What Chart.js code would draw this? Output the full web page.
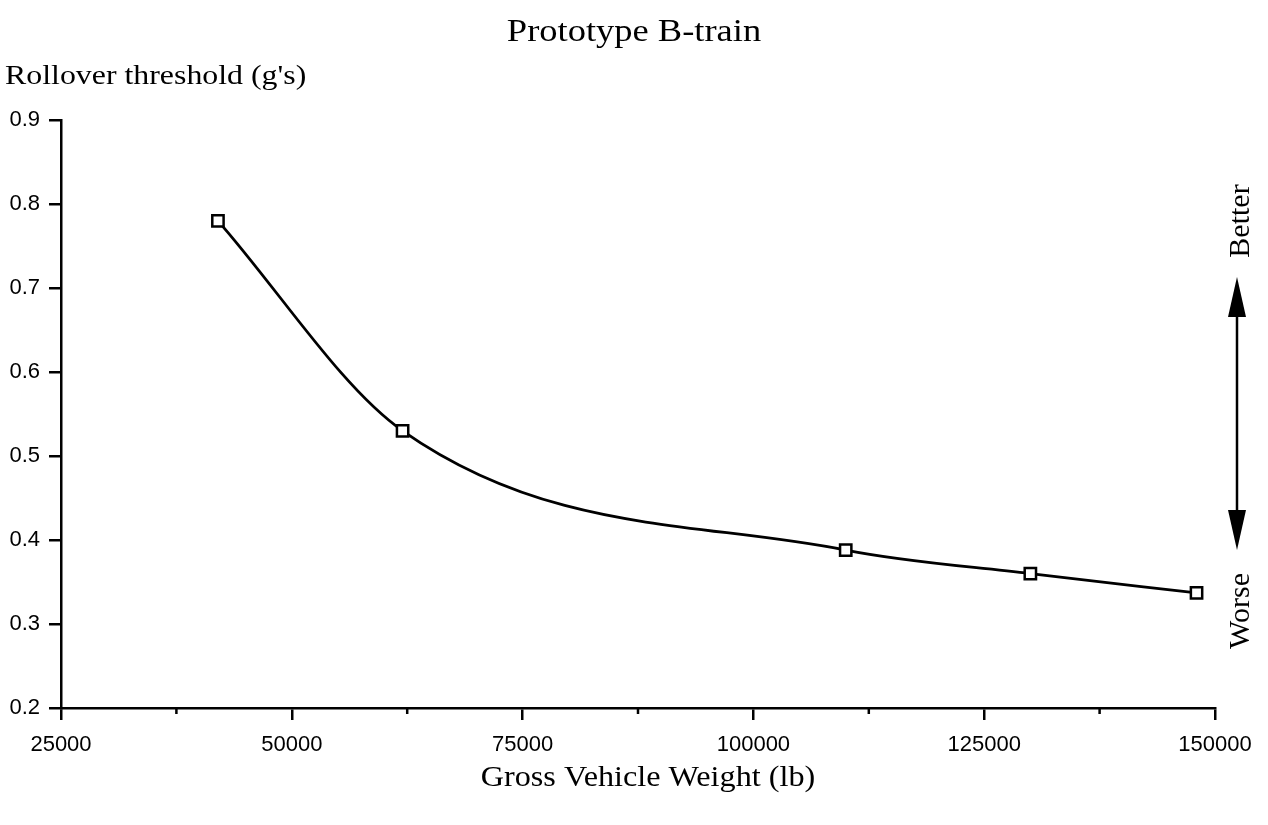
<!DOCTYPE html>
<html>
<head>
<meta charset="utf-8">
<script src="https://cdn.jsdelivr.net/npm/chart.js@4/dist/chart.umd.min.js"></script>
<style>
  html, body { margin: 0; padding: 0; background: #fff; }
  #wrap { width: 1268px; height: 825px; position: relative; }
</style>
</head>
<body>
<div id="wrap"><canvas id="c" width="1268" height="825"></canvas></div>
<script>
// ---- data ----
const chartTitle = "Prototype B-train";
const yAxisLabel = "Rollover threshold (g's)";
const xAxisLabel = "Gross Vehicle Weight (lb)";
const betterLabel = "Better";
const worseLabel = "Worse";
const grossWeight = [42000, 62000, 110000, 130000, 148000];
const rolloverThreshold = [0.78, 0.53, 0.388, 0.36, 0.337];
const xMajorTicks = [25000, 50000, 75000, 100000, 125000, 150000];
const xMinorTicks = [37500, 62500, 87500, 112500, 137500];
const yTicks = [0.2, 0.3, 0.4, 0.5, 0.6, 0.7, 0.8, 0.9];

const serif = '"Liberation Serif", "Times New Roman", serif';
const sans = '"Liberation Sans", Arial, Helvetica, sans-serif';

function stretchedText(ctx, text, cx, baseY, font, sx, align) {
  ctx.save();
  ctx.font = font;
  ctx.textBaseline = 'alphabetic';
  ctx.textAlign = align;
  ctx.translate(cx, baseY);
  ctx.scale(sx, 1);
  ctx.fillText(text, 0, 0);
  ctx.restore();
}

const decorPlugin = {
  id: 'decor',
  afterDraw(chart) {
    const ctx = chart.ctx;
    const xs = chart.scales.x;
    const area = chart.chartArea;
    ctx.save();
    // minor x ticks
    ctx.strokeStyle = '#000';
    ctx.lineWidth = 2.5;
    xMinorTicks.forEach(v => {
      const px = xs.getPixelForValue(v);
      ctx.beginPath();
      ctx.moveTo(px, area.bottom);
      ctx.lineTo(px, area.bottom + 6);
      ctx.stroke();
    });
    ctx.fillStyle = '#000';
    // title
    stretchedText(ctx, chartTitle, 634, 41, '32px ' + serif, 1.14, 'center');
    // y axis label
    stretchedText(ctx, yAxisLabel, 5, 84, '27px ' + serif, 1.18, 'left');
    // x axis label
    stretchedText(ctx, xAxisLabel, 648, 786, '29px ' + serif, 1.11, 'center');
    // Better / Worse rotated
    ctx.font = '30px ' + serif;
    [[betterLabel, 221], [worseLabel, 611]].forEach(([t, cy]) => {
      ctx.save();
      ctx.translate(1249, cy);
      ctx.rotate(-Math.PI / 2);
      ctx.textAlign = 'center';
      ctx.textBaseline = 'alphabetic';
      ctx.fillText(t, 0, 0);
      ctx.restore();
    });
    // double arrow
    const ax = 1237, top = 277, bot = 550, hl = 40, hw = 9;
    ctx.lineWidth = 2.5;
    ctx.beginPath();
    ctx.moveTo(ax, top + hl - 2);
    ctx.lineTo(ax, bot - hl + 2);
    ctx.stroke();
    ctx.beginPath();
    ctx.moveTo(ax, top); ctx.lineTo(ax - hw, top + hl); ctx.lineTo(ax + hw, top + hl); ctx.closePath();
    ctx.fill();
    ctx.beginPath();
    ctx.moveTo(ax, bot); ctx.lineTo(ax - hw, bot - hl); ctx.lineTo(ax + hw, bot - hl); ctx.closePath();
    ctx.fill();
    ctx.restore();
  }
};

new Chart(document.getElementById('c'), {
  type: 'line',
  data: {
    datasets: [{
      data: grossWeight.map((x, i) => ({ x: x, y: rolloverThreshold[i] })),
      borderColor: '#000',
      borderWidth: 2.8,
      cubicInterpolationMode: 'monotone',
      pointStyle: 'rect',
      pointRadius: 8,
      pointBorderWidth: 2.5,
      pointBorderColor: '#000',
      pointBackgroundColor: '#fff',
      fill: false
    }]
  },
  options: {
    responsive: false,
    animation: false,
    devicePixelRatio: 1,
    layout: { padding: { left: 0, top: 120, right: 53, bottom: 0 } },
    plugins: { legend: { display: false }, tooltip: { enabled: false }, title: { display: false } },
    scales: {
      x: {
        type: 'linear',
        min: 25000, max: 150000,
        afterBuildTicks: s => { s.ticks = xMajorTicks.map(v => ({ value: v })); },
        afterFit: s => { s.height = 117; },
        grid: { drawOnChartArea: false, drawTicks: true, tickLength: 12, color: '#000', lineWidth: 2.5 },
        border: { display: true, color: '#000', width: 2.5 },
        ticks: { color: '#000', font: { family: sans, size: 22 }, padding: 12, maxRotation: 0, autoSkip: false,
                 callback: v => String(v) }
      },
      y: {
        type: 'linear',
        min: 0.2, max: 0.9,
        afterBuildTicks: s => { s.ticks = yTicks.map(v => ({ value: v })); },
        afterFit: s => { s.width = 61; },
        grid: { drawOnChartArea: false, drawTicks: true, tickLength: 12, color: '#000', lineWidth: 2.5 },
        border: { display: true, color: '#000', width: 2.5 },
        ticks: { color: '#000', font: { family: sans, size: 22 }, padding: 9, autoSkip: false,
                 callback: v => Number(v).toFixed(1) }
      }
    }
  },
  plugins: [decorPlugin]
});
</script>
</body>
</html>
